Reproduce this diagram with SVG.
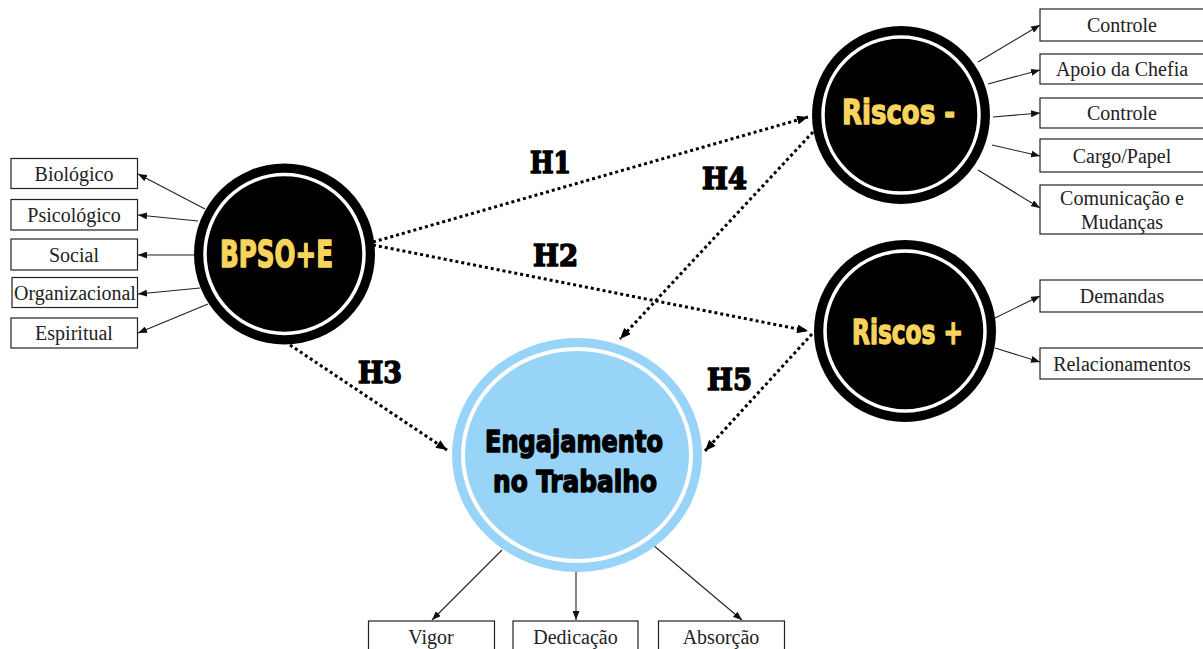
<svg xmlns="http://www.w3.org/2000/svg" width="1203" height="649" viewBox="0 0 1203 649">
<style>
.box{fill:#fff;stroke:#222;stroke-width:1.2}
.bt{font-family:"Liberation Serif","Times New Roman",serif;font-size:20px;fill:#222;text-anchor:middle}
.ln{stroke:#222;stroke-width:1.1;fill:none;marker-end:url(#ah)}
.dl{stroke:#000;stroke-width:3;stroke-dasharray:3 3;fill:none;marker-end:url(#dh)}
.hl{font-family:"DejaVu Serif","Liberation Serif",serif;font-weight:bold;font-size:29px;fill:#000;stroke:#000;stroke-width:1.6;stroke-linejoin:round}
.ct{font-family:"DejaVu Sans","Liberation Sans",sans-serif;font-weight:900;font-stretch:condensed;stroke-width:1.3;stroke-linejoin:round}
</style>
<defs>
<marker id="ah" markerUnits="userSpaceOnUse" markerWidth="9" markerHeight="7" refX="9" refY="3.5" orient="auto"><path d="M0,0 L9,3.5 L0,7 z" fill="#111"/></marker>
<marker id="dh" markerUnits="userSpaceOnUse" markerWidth="11" markerHeight="9" refX="11" refY="4.5" orient="auto"><path d="M0,0 L11,4.5 L0,9 z" fill="#000"/></marker>
</defs>
<rect width="1203" height="649" fill="#fff"/>

<g id="connectors">
<line class="ln" x1="205" y1="209" x2="138" y2="174"/>
<line class="ln" x1="198" y1="221" x2="138" y2="215"/>
<line class="ln" x1="194" y1="255" x2="138" y2="255"/>
<line class="ln" x1="200" y1="288" x2="138" y2="294"/>
<line class="ln" x1="208" y1="304" x2="138" y2="333"/>
<line class="ln" x1="978" y1="62" x2="1040" y2="25"/>
<line class="ln" x1="988" y1="84" x2="1040" y2="70"/>
<line class="ln" x1="993" y1="117" x2="1040" y2="113"/>
<line class="ln" x1="992" y1="145" x2="1040" y2="156"/>
<line class="ln" x1="978" y1="170" x2="1040" y2="208"/>
<line class="ln" x1="995" y1="318" x2="1040" y2="296"/>
<line class="ln" x1="995" y1="348" x2="1040" y2="362"/>
<line class="ln" x1="502" y1="550" x2="432" y2="620"/>
<line class="ln" x1="576" y1="572" x2="576" y2="620"/>
<line class="ln" x1="653" y1="545" x2="742" y2="620"/>
<line class="dl" x1="373" y1="242" x2="808" y2="117"/>
<line class="dl" x1="373" y1="245" x2="808" y2="331"/>
<line class="dl" x1="813" y1="132" x2="620" y2="339"/>
<line class="dl" x1="290" y1="345" x2="447" y2="450"/>
<line class="dl" x1="812" y1="334" x2="705" y2="451"/>
</g>

<g id="labels">
<text class="hl" x="530" y="173" textLength="41" lengthAdjust="spacingAndGlyphs">H1</text>
<text class="hl" x="533" y="266" textLength="45" lengthAdjust="spacingAndGlyphs">H2</text>
<text class="hl" x="358" y="383" textLength="44" lengthAdjust="spacingAndGlyphs">H3</text>
<text class="hl" x="702" y="189" textLength="45" lengthAdjust="spacingAndGlyphs">H4</text>
<text class="hl" x="707" y="390" textLength="45" lengthAdjust="spacingAndGlyphs">H5</text>
</g>

<g id="bpsoe">
<circle cx="284.5" cy="254" r="90.5" fill="#000"/>
<circle cx="284.5" cy="254" r="79.5" fill="none" stroke="#fff" stroke-width="3.5"/>
<text class="ct" x="220" y="267" font-size="37" fill="#F8D45C" stroke="#F8D45C" textLength="113" lengthAdjust="spacingAndGlyphs">BPSO+E</text>
</g>

<g id="riscos-neg">
<circle cx="901" cy="115" r="89" fill="#000"/>
<circle cx="901" cy="115" r="78" fill="none" stroke="#fff" stroke-width="3.5"/>
<text class="ct" x="842" y="124" font-size="33" fill="#F8D45C" stroke="#F8D45C" textLength="113" lengthAdjust="spacingAndGlyphs">Riscos -</text>
</g>

<g id="riscos-pos">
<circle cx="905" cy="331" r="91" fill="#000"/>
<circle cx="905" cy="331" r="80" fill="none" stroke="#fff" stroke-width="3.5"/>
<text class="ct" x="852" y="344" font-size="33" fill="#F8D45C" stroke="#F8D45C" textLength="111" lengthAdjust="spacingAndGlyphs">Riscos +</text>
</g>

<g id="engajamento">
<ellipse cx="577" cy="455" rx="125" ry="117" fill="#97D4F8"/>
<ellipse cx="577" cy="455" rx="114" ry="106" fill="none" stroke="#fff" stroke-width="4"/>
<text class="ct" x="485" y="452" font-size="30" fill="#000" stroke="#000" textLength="178" lengthAdjust="spacingAndGlyphs">Engajamento</text>
<text class="ct" x="493" y="492" font-size="30" fill="#000" stroke="#000" textLength="164" lengthAdjust="spacingAndGlyphs">no Trabalho</text>
</g>

<g id="biologico"><rect class="box" x="11" y="158.5" width="126.5" height="30"/><text class="bt" x="74" y="181">Biológico</text></g>
<g id="psicologico"><rect class="box" x="11" y="199.5" width="126.5" height="30.5"/><text class="bt" x="74" y="222">Psicológico</text></g>
<g id="social"><rect class="box" x="11" y="239" width="126.5" height="31"/><text class="bt" x="74" y="262">Social</text></g>
<g id="organizacional"><rect class="box" x="12" y="277.5" width="125.5" height="30"/><text class="bt" x="75" y="300">Organizacional</text></g>
<g id="espiritual"><rect class="box" x="11" y="318" width="126.5" height="30"/><text class="bt" x="74" y="340">Espiritual</text></g>

<g id="controle1"><rect class="box" x="1040" y="9" width="165" height="32"/><text class="bt" x="1122" y="32">Controle</text></g>
<g id="apoio"><rect class="box" x="1040" y="54" width="165" height="30"/><text class="bt" x="1122" y="76">Apoio da Chefia</text></g>
<g id="controle2"><rect class="box" x="1040" y="98" width="165" height="30"/><text class="bt" x="1122" y="120">Controle</text></g>
<g id="cargo"><rect class="box" x="1040" y="139" width="165" height="33"/><text class="bt" x="1122" y="163">Cargo/Papel</text></g>
<g id="comunicacao"><rect class="box" x="1040" y="185" width="165" height="49"/><text class="bt" x="1122" y="205">Comunicação e</text><text class="bt" x="1122" y="229">Mudanças</text></g>
<g id="demandas"><rect class="box" x="1040" y="280" width="165" height="32"/><text class="bt" x="1122" y="303">Demandas</text></g>
<g id="relacionamentos"><rect class="box" x="1040" y="348" width="165" height="31"/><text class="bt" x="1122" y="371">Relacionamentos</text></g>

<g id="vigor"><rect class="box" x="368.5" y="621" width="126" height="40"/><text class="bt" x="431" y="644">Vigor</text></g>
<g id="dedicacao"><rect class="box" x="513" y="621" width="125" height="40"/><text class="bt" x="575.5" y="644">Dedicação</text></g>
<g id="absorcao"><rect class="box" x="658.5" y="621" width="126" height="40"/><text class="bt" x="721" y="644">Absorção</text></g>
</svg>
